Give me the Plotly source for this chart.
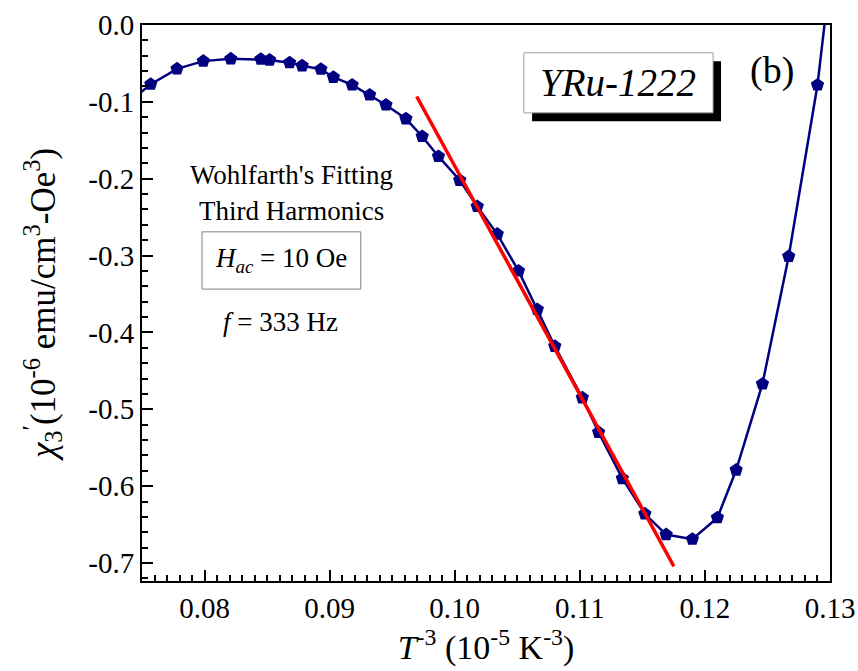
import plotly.graph_objects as go

# Third-harmonic ac susceptibility vs T^-3 (YRu-1222)
t_inv3 = [0.0740, 0.0757, 0.0778, 0.0799, 0.0821, 0.0845, 0.0852, 0.0868, 0.0878,
          0.0893, 0.0903, 0.0918, 0.0932, 0.0945, 0.0961, 0.0974, 0.0987, 0.1004,
          0.1018, 0.1034, 0.1051, 0.1066, 0.1080, 0.1102, 0.1115, 0.1134, 0.1152,
          0.1169, 0.1190, 0.1210, 0.1225, 0.1246, 0.1267, 0.1290, 0.1302]
chi3 = [-0.100, -0.077, -0.057, -0.047, -0.044, -0.0445, -0.0455, -0.049, -0.053,
        -0.0575, -0.068, -0.078, -0.091, -0.104, -0.122, -0.145, -0.171, -0.202,
        -0.236, -0.272, -0.320, -0.370, -0.418, -0.485, -0.530, -0.590, -0.636,
        -0.663, -0.669, -0.641, -0.579, -0.467, -0.301, -0.078, 0.090]

# Wohlfarth linear fit
fit_x = [0.09696, 0.11752]
fit_y = [-0.0930, -0.7043]

x_ticks = [0.08, 0.09, 0.10, 0.11, 0.12, 0.13]
x_ticklabels = ["0.08", "0.09", "0.10", "0.11", "0.12", "0.13"]
y_ticks = [0.0, -0.1, -0.2, -0.3, -0.4, -0.5, -0.6, -0.7]
y_ticklabels = ["0.0", "-0.1", "-0.2", "-0.3", "-0.4", "-0.5", "-0.6", "-0.7"]

serif = "Liberation Serif, Times New Roman, serif"
navy = "#000080"

fig = go.Figure()
fig.add_trace(go.Scatter(
    x=t_inv3, y=chi3, mode="lines+markers",
    line=dict(color=navy, width=2.5),
    marker=dict(symbol="pentagon", size=14, color=navy, line=dict(width=0)),
    showlegend=False,
))
fig.add_trace(go.Scatter(
    x=fit_x, y=fit_y, mode="lines",
    line=dict(color="#ff0000", width=3.5),
    showlegend=False,
))

axis_common = dict(
    showgrid=False, zeroline=False, showline=True, linecolor="black",
    linewidth=2, mirror=True, ticks="inside", tickcolor="black",
    tickwidth=2, ticklen=11,
    tickfont=dict(family=serif, size=29, color="black"),
)

fig.update_xaxes(
    range=[0.075, 0.13], tickvals=x_ticks, ticktext=x_ticklabels,
    minor=dict(ticks="inside", dtick=0.001, ticklen=6, tickwidth=1.5, tickcolor="black"),
    title=dict(text="<i>T</i><sup>-3</sup> (10<sup>-5</sup> K<sup>-3</sup>)",
               font=dict(family=serif, size=34, color="black"), standoff=0),
    **axis_common,
)
fig.update_yaxes(
    range=[-0.7234, 0.0], tickvals=y_ticks, ticktext=y_ticklabels,
    minor=dict(ticks="inside", dtick=0.02, ticklen=6, tickwidth=1.5, tickcolor="black"),
    title=dict(text="<i>χ</i><sub>3</sub><sup>′</sup>(10<sup>-6</sup> emu/cm<sup>3</sup>-Oe<sup>3</sup>)",
               font=dict(family=serif, size=35, color="black"), standoff=22),
    **axis_common,
)

shapes = [
    # shadowed sample-name box
    dict(type="rect", xref="paper", yref="paper", x0=0.567, x1=0.8416, y0=0.827, y1=0.935,
         fillcolor="black", line=dict(width=0)),
    dict(type="rect", xref="paper", yref="paper", x0=0.555, x1=0.830, y0=0.842, y1=0.950,
         fillcolor="white", line=dict(color="#a0a0a0", width=1)),
    # field amplitude box
    dict(type="rect", xref="paper", yref="paper", x0=0.0872, x1=0.318, y0=0.525, y1=0.628,
         fillcolor="white", line=dict(color="#808080", width=1)),
]

annotations = [
    dict(text="<i>YRu-1222</i>", x=0.692, y=0.896, font=dict(size=39)),
    dict(text="(b)", x=0.916, y=0.918, font=dict(size=38)),
    dict(text="Wohlfarth's Fitting", x=0.2166, y=0.730, font=dict(size=27)),
    dict(text="Third Harmonics", x=0.2166, y=0.665, font=dict(size=27)),
    dict(text="<i>H</i><sub><i>ac</i></sub> = 10 Oe", x=0.2026, y=0.577, font=dict(size=27)),
    dict(text="<i>f</i> = 333 Hz", x=0.2006, y=0.466, font=dict(size=27)),
]
for a in annotations:
    a.update(xref="paper", yref="paper", showarrow=False, xanchor="center", yanchor="middle")
    a["font"].update(family=serif, color="black")

fig.update_layout(
    width=858, height=671,
    margin=dict(l=142, r=28, t=25, b=90, autoexpand=False),
    paper_bgcolor="white", plot_bgcolor="white",
    shapes=shapes, annotations=annotations,
)

fig.write_html("out.html")
